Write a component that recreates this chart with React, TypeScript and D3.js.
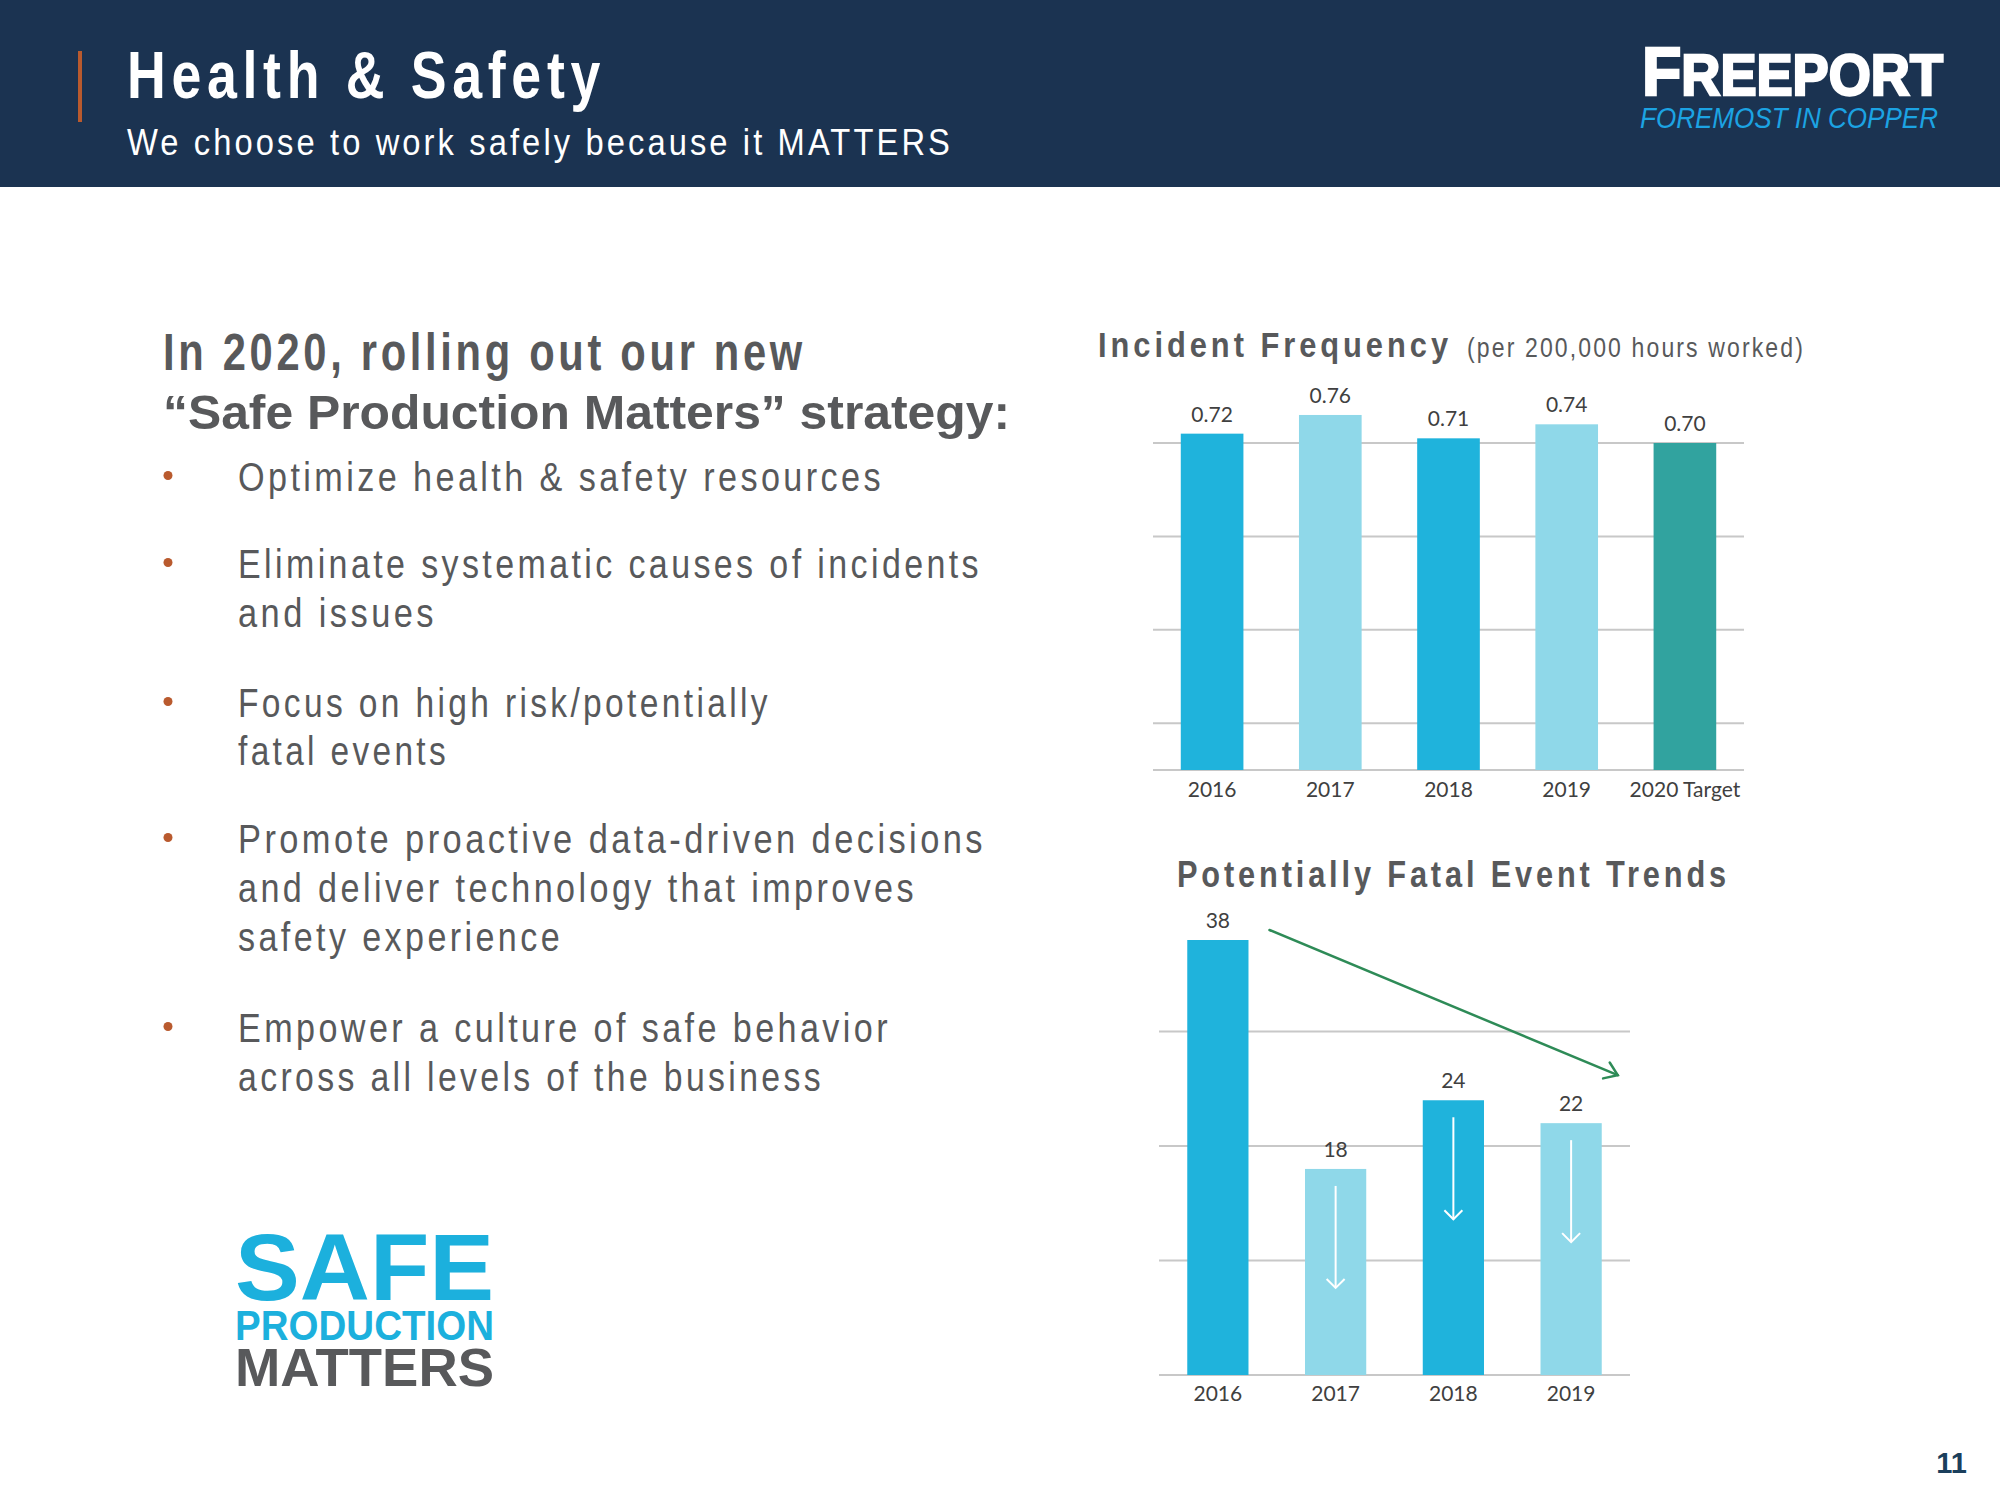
import React from 'react';
import * as d3 from 'd3';

// ---------- data ----------
const incidentCategories = ['2016', '2017', '2018', '2019', '2020 Target'];
const incidentValues = [0.72, 0.76, 0.71, 0.74, 0.7];
const incidentLabels = ['0.72', '0.76', '0.71', '0.74', '0.70'];
const incidentGrid = [0.1, 0.3, 0.5, 0.7];

const pfeCategories = ['2016', '2017', '2018', '2019'];
const pfeValues = [38, 18, 24, 22];
const pfeGrid = [10, 20, 30];

const bulletItems = [
  ['Optimize health & safety resources'],
  ['Eliminate systematic causes of incidents', 'and issues'],
  ['Focus on high risk/potentially', 'fatal events'],
  ['Promote proactive data-driven decisions', 'and deliver technology that improves', 'safety experience'],
  ['Empower a culture of safe behavior', 'across all levels of the business'],
];

// ---------- styles / layout ----------
const NAVY = '#1B3351';
const GRAY = '#58595B';
const RUST = '#B95A2E';
const CYAN = '#1FB3DC';
const LIGHT = '#8FD8E9';
const TEAL = '#31A39F';
const GRID = '#C8C8C8';
const incidentColors = [CYAN, LIGHT, CYAN, LIGHT, TEAL];
const pfeColors = [CYAN, LIGHT, CYAN, LIGHT];

const SANS = '"Liberation Sans",Arial,Helvetica,sans-serif';
const LABEL = 'Lato,"Open Sans","Noto Sans",sans-serif';

const bulletBaselines = [[491], [578, 627], [717, 765], [853, 902, 951], [1042, 1091]];
const bulletWidths = [[646], [744, 199], [533, 211], [748, 679, 325], [653, 586]];

// condensed + letter-spaced text (mimics a narrow face)
function Narrow(props: any) {
  const { children, spacing, width, ...rest } = props;
  return (
    <text fontFamily={SANS} letterSpacing={spacing} textLength={width} lengthAdjust="spacingAndGlyphs" {...rest}>
      {children}
    </text>
  );
}

export default function App() {
  const x1 = d3.scaleBand<string>().domain(incidentCategories).range([1153, 1744]).paddingInner(0.47).paddingOuter(0.235);
  const y1 = d3.scaleLinear().domain([0, 0.7]).range([770, 443]);

  const x2 = d3.scaleBand<string>().domain(pfeCategories).range([1159, 1630]).paddingInner(0.48).paddingOuter(0.24);
  const y2 = d3.scaleLinear().domain([0, 38]).range([1375, 940]);

  const tx0 = (x2(pfeCategories[0]) as number) + x2.bandwidth() + 21;
  const ty0 = y2(pfeValues[0]) - 10;
  const tx1 = (x2(pfeCategories[3]) as number) + x2.bandwidth() + 16;
  const ty1 = y2(pfeValues[3]) - 48;
  const ang = Math.atan2(ty1 - ty0, tx1 - tx0);
  const headLen = 15;
  const headA = (35 * Math.PI) / 180;
  const h1 = [tx1 - headLen * Math.cos(ang - headA), ty1 - headLen * Math.sin(ang - headA)];
  const h2 = [tx1 - headLen * Math.cos(ang + headA), ty1 - headLen * Math.sin(ang + headA)];

  return (
    <svg width={2000} height={1500} viewBox="0 0 2000 1500" style={{ position: 'absolute', left: 0, top: 0, background: '#fff' }}>
      <rect x={0} y={0} width={2000} height={1500} fill="#fff" />
      {/* header */}
      <rect x={0} y={0} width={2000} height={187} fill={NAVY} />
      <rect x={78} y={51} width={4} height={71} fill={RUST} />
      <Narrow x={127} y={98} fill="#fff" fontWeight="bold" fontSize={66} spacing={7} width={479}>
        Health &amp; Safety
      </Narrow>
      <Narrow x={127} y={155} fill="#fff" fontSize={37} spacing={3.5} width={826}>
        We choose to work safely because it MATTERS
      </Narrow>
      <text x={1642} y={95} fill="#fff" stroke="#fff" strokeWidth={2.5} fontFamily={SANS} fontWeight="bold" textLength={301} lengthAdjust="spacingAndGlyphs">
        <tspan fontSize={69}>F</tspan>
        <tspan fontSize={58}>REEPORT</tspan>
      </text>
      <text x={1640} y={128} fill="#1CA3E3" fontFamily={SANS} fontStyle="italic" fontSize={30} textLength={298} lengthAdjust="spacingAndGlyphs">
        FOREMOST IN COPPER
      </text>

      {/* left headline */}
      <Narrow x={163} y={370} fill={GRAY} fontWeight="bold" fontSize={51} spacing={4.5} width={643}>
        In 2020, rolling out our new
      </Narrow>
      <text x={163} y={429} fill={GRAY} fontFamily={SANS} fontWeight="bold" fontSize={48} textLength={847} lengthAdjust="spacingAndGlyphs">
        “Safe Production Matters” strategy:
      </text>

      {/* bullets */}
      {bulletItems.map((lines, i) => (
        <g key={i}>
          <circle cx={168} cy={bulletBaselines[i][0] - 15.5} r={4.5} fill={RUST} />
          {lines.map((ln, j) => (
            <Narrow key={j} x={238} y={bulletBaselines[i][j]} fill={GRAY} fontSize={40} spacing={4} width={bulletWidths[i][j]}>
              {ln}
            </Narrow>
          ))}
        </g>
      ))}

      {/* SAFE PRODUCTION MATTERS logo */}
      <text x={235} y={1300} fill="#1CB0DD" fontFamily={SANS} fontWeight="bold" fontSize={95} textLength={259} lengthAdjust="spacingAndGlyphs">SAFE</text>
      <text x={235} y={1340} fill="#1CB0DD" fontFamily={SANS} fontWeight="bold" fontSize={42} textLength={259} lengthAdjust="spacingAndGlyphs">PRODUCTION</text>
      <text x={235} y={1386} fill={GRAY} fontFamily={SANS} fontWeight="bold" fontSize={54} textLength={259} lengthAdjust="spacingAndGlyphs">MATTERS</text>

      {/* Incident Frequency chart */}
      <Narrow x={1098} y={357} fill={GRAY} fontWeight="bold" fontSize={35} spacing={4.5} width={354}>
        Incident Frequency
      </Narrow>
      <Narrow x={1467} y={357} fill={GRAY} fontSize={27} spacing={2.5} width={338}>
        (per 200,000 hours worked)
      </Narrow>
      {incidentGrid.map((t) => (
        <line key={t} x1={1153} x2={1744} y1={y1(t)} y2={y1(t)} stroke={GRID} strokeWidth={2} />
      ))}
      <line x1={1153} x2={1744} y1={y1(0)} y2={y1(0)} stroke={GRID} strokeWidth={2} />
      {incidentCategories.map((c, i) => {
        const x = x1(c) as number;
        const cx = x + x1.bandwidth() / 2;
        return (
          <g key={c}>
            <rect x={x} y={y1(incidentValues[i])} width={x1.bandwidth()} height={y1(0) - y1(incidentValues[i])} fill={incidentColors[i]} />
            <text x={cx} y={y1(incidentValues[i]) - 12} textAnchor="middle" fill="#404040" fontFamily={LABEL} fontSize={21}>
              {incidentLabels[i]}
            </text>
            <text x={cx} y={797} textAnchor="middle" fill="#404040" fontFamily={LABEL} fontSize={21}>
              {c}
            </text>
          </g>
        );
      })}

      {/* Potentially Fatal Event Trends chart */}
      <Narrow x={1177} y={887} fill={GRAY} fontWeight="bold" fontSize={36} spacing={4.5} width={553}>
        Potentially Fatal Event Trends
      </Narrow>
      {pfeGrid.map((t) => (
        <line key={t} x1={1159} x2={1630} y1={y2(t)} y2={y2(t)} stroke={GRID} strokeWidth={2} />
      ))}
      <line x1={1159} x2={1630} y1={y2(0)} y2={y2(0)} stroke={GRID} strokeWidth={2} />
      {pfeCategories.map((c, i) => {
        const x = x2(c) as number;
        const cx = x + x2.bandwidth() / 2;
        const top = y2(pfeValues[i]);
        const a0 = top + 17;
        const a1 = a0 + 102;
        return (
          <g key={c}>
            <rect x={x} y={top} width={x2.bandwidth()} height={y2(0) - top} fill={pfeColors[i]} />
            {i > 0 && (
              <g stroke="#fff" strokeWidth={2} fill="none">
                <line x1={cx} x2={cx} y1={a0} y2={a1} />
                <polyline points={`${cx - 9},${a1 - 9} ${cx},${a1} ${cx + 9},${a1 - 9}`} />
              </g>
            )}
            <text x={cx} y={top - 12} textAnchor="middle" fill="#404040" fontFamily={LABEL} fontSize={21}>
              {pfeValues[i]}
            </text>
            <text x={cx} y={1401} textAnchor="middle" fill="#404040" fontFamily={LABEL} fontSize={21}>
              {c}
            </text>
          </g>
        );
      })}
      <g stroke="#2E8B57" strokeWidth={2.5} fill="none" strokeLinecap="round">
        <line x1={tx0} y1={ty0} x2={tx1} y2={ty1} />
        <polyline points={`${h1[0]},${h1[1]} ${tx1},${ty1} ${h2[0]},${h2[1]}`} />
      </g>

      {/* page number */}
      <text x={1967} y={1473} textAnchor="end" fill="#1B3F5C" fontFamily={SANS} fontWeight="bold" fontSize={29}>
        11
      </text>
    </svg>
  );
}
